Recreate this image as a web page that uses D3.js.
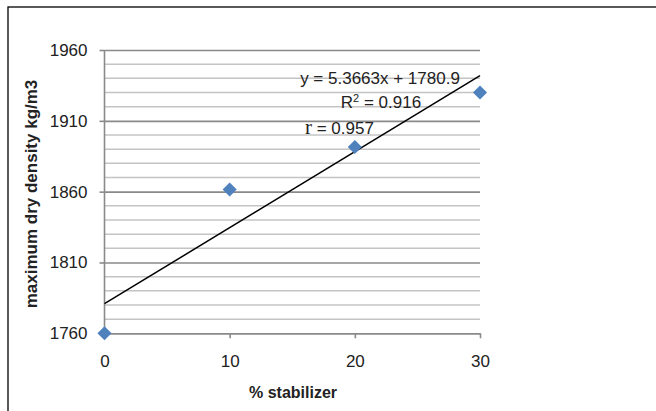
<!DOCTYPE html>
<html>
<head>
<meta charset="utf-8">
<script src="https://cdn.jsdelivr.net/npm/d3@7"></script>
<style>
  html, body { margin: 0; padding: 0; background: #fff; }
  #chart { width: 656px; height: 411px; }
</style>
</head>
<body>
<div id="chart"></div>
<script>
// data
const stabilizer = [0, 10, 20, 30];
const density = [1760, 1861.5, 1891.5, 1930];
const xTicks = [0, 10, 20, 30];
const yMajor = [1760, 1810, 1860, 1910, 1960];
const yMinor = d3.range(1770, 1960, 10).filter(v => (v - 1760) % 50 !== 0);
const fit = { slope: 5.3663, intercept: 1780.9 };
const labels = ["y = 5.3663x + 1780.9", "0.916", "0.957"];

(function () {
    const width = 656, height = 411;
    const svg = d3.select("#chart").append("svg").attr("width", width).attr("height", height);
    const font = "'Liberation Sans', Arial, sans-serif";

    // outer frame, runs off the right/bottom edge
    svg.append("rect").attr("x", 8).attr("y", 7).attr("width", 700).attr("height", 500)
        .attr("fill", "none").attr("stroke", "#000").attr("stroke-width", 1.3);

    const x = d3.scaleLinear().domain([0, 30]).range([104.5, 480]);
    const y = d3.scaleLinear().domain([1760, 1960]).range([333.3, 50]);

    // minor gridlines
    svg.append("g").selectAll("line").data(yMinor).enter().append("line")
        .attr("x1", x(0)).attr("x2", x(30))
        .attr("y1", d => y(d)).attr("y2", d => y(d))
        .attr("stroke", "#c4c4c4").attr("stroke-width", 1.5);

    // major gridlines via left axis
    const yAxis = svg.append("g").attr("transform", `translate(${x(0)},0)`)
        .call(d3.axisLeft(y).tickValues(yMajor).tickSize(5).tickPadding(12).tickFormat(d3.format("d")));
    yAxis.select(".domain").remove();
    yAxis.selectAll(".tick line").clone()
        .attr("x1", 0).attr("x2", x(30) - x(0));
    yAxis.selectAll(".tick line").attr("stroke", "#8a8a8a").attr("stroke-width", 1.6);
    yAxis.selectAll(".tick text").attr("font-family", font).attr("font-size", 17).attr("fill", "#222");

    // vertical axis line
    svg.append("line").attr("x1", x(0)).attr("x2", x(0)).attr("y1", y(1960)).attr("y2", y(1760))
        .attr("stroke", "#8a8a8a").attr("stroke-width", 1.6);

    // x axis
    const xAxis = svg.append("g").attr("transform", `translate(0,${y(1760)})`)
        .call(d3.axisBottom(x).tickValues(xTicks).tickSize(5).tickPadding(17).tickSizeOuter(0));
    xAxis.select(".domain").attr("stroke", "#8a8a8a").attr("stroke-width", 1.6);
    xAxis.selectAll(".tick line").attr("stroke", "#8a8a8a").attr("stroke-width", 1.6);
    xAxis.selectAll(".tick text").attr("font-family", font).attr("font-size", 17).attr("fill", "#222");

    // trendline
    const fx = v => fit.slope * v + fit.intercept;
    svg.append("line")
        .attr("x1", x(0)).attr("y1", y(fx(0)))
        .attr("x2", x(30)).attr("y2", y(fx(30)))
        .attr("stroke", "#000").attr("stroke-width", 1.5);

    // markers
    svg.append("g").selectAll("path").data(stabilizer).enter().append("path")
        .attr("d", d3.symbol(d3.symbolSquare, 100))
        .attr("transform", (d, i) => `translate(${x(d)},${y(density[i])}) rotate(45)`)
        .attr("fill", "#4f81bd");

    // fit annotations
    svg.append("text").attr("x", 380).attr("y", 84).attr("text-anchor", "middle")
        .attr("font-family", font).attr("font-size", 17).attr("fill", "#222")
        .text(labels[0]);
    const r2 = svg.append("text").attr("x", 381).attr("y", 108).attr("text-anchor", "middle")
        .attr("font-family", font).attr("font-size", 17).attr("fill", "#222");
    r2.append("tspan").text("R");
    r2.append("tspan").attr("font-size", 11).attr("dy", -6).text("2");
    r2.append("tspan").attr("dy", 6).text(" = " + labels[1]);
    const rr = svg.append("text").attr("x", 305).attr("y", 134)
        .attr("font-family", font).attr("font-size", 17).attr("fill", "#222");
    rr.append("tspan").attr("font-family", "'Liberation Serif', serif").attr("font-size", 21).text("r");
    rr.append("tspan").text(" = " + labels[2]);

    // axis titles
    svg.append("text").attr("x", 293).attr("y", 398).attr("text-anchor", "middle")
        .attr("font-family", font).attr("font-weight", "bold").attr("font-size", 16).attr("fill", "#222")
        .text("% stabilizer");
    svg.append("text").attr("transform", "translate(37,194) rotate(-90)").attr("text-anchor", "middle")
        .attr("font-family", font).attr("font-weight", "bold").attr("font-size", 17).attr("fill", "#222")
        .text("maximum dry density kg/m3");
})();
</script>
</body>
</html>
